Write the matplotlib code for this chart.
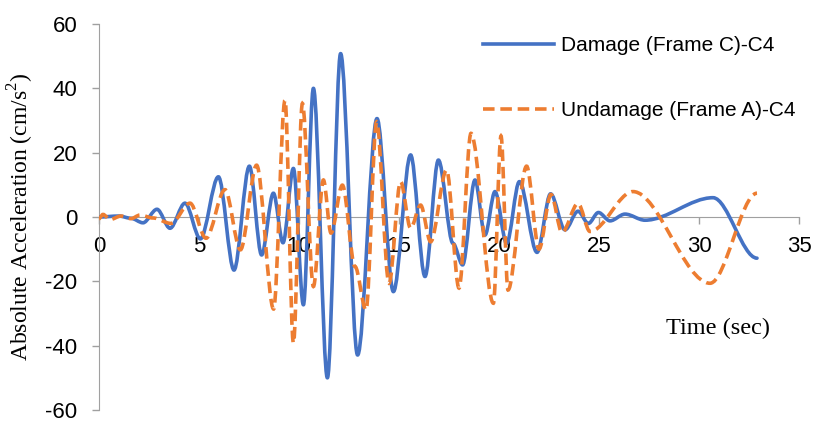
import matplotlib
matplotlib.use("Agg")
import matplotlib.pyplot as plt
from matplotlib.path import Path
from matplotlib.patches import PathPatch
from matplotlib.lines import Line2D

# extrema (time in sec, acceleration in cm/s2)
damage_t = [0.0, 1.0, 1.6, 2.2, 2.9, 3.55, 4.3, 5.07, 5.97, 6.75, 7.52, 8.13, 8.72, 9.2,
            9.72, 10.22, 10.72, 11.42, 12.08, 12.93, 13.9, 14.72, 15.58, 16.3, 16.97,
            17.7, 18.18, 18.8, 19.3, 19.8, 20.38, 21.02, 21.9, 22.58, 23.3, 23.95,
            24.47, 24.97, 25.55, 26.3, 27.3, 30.7, 32.9]
damage_v = [0.0, 0.3, -0.4, -1.8, 2.4, -3.5, 4.3, -6.8, 12.5, -16.5, 15.8, -11.8, 7.4, -8.0,
            15.1, -27.3, 40.0, -50.0, 50.8, -42.9, 30.6, -23.2, 19.3, -18.5, 17.7,
            -8.2, -14.9, 11.5, -5.6, 7.9, -8.2, 11.0, -11.0, 7.2, -4.0, 1.8,
            -2.0, 1.4, -1.2, 0.9, -1.0, 6.0, -12.8]

undamage_t = [0.0, 0.2, 0.55, 1.1, 1.6, 2.05, 2.7, 3.6, 4.55, 5.35, 6.3, 7.07, 7.88, 8.73,
              9.3, 9.72, 10.17, 10.72, 11.22, 11.6, 12.17, 12.8, 13.35, 13.88, 14.5,
              15.08, 15.58, 16.08, 16.58, 17.38, 18.0, 18.6, 19.72, 20.1, 20.45, 21.38,
              22.0, 22.6, 23.15, 23.95, 24.55, 26.7, 30.55, 32.9]
undamage_v = [-0.5, 0.8, -0.8, 0.3, -0.5, 0.6, -0.3, -2.0, 4.3, -6.6, 8.5, -10.2, 16.1, -28.6,
              36.3, -39.2, 35.3, -21.6, 11.5, -5.0, 9.9, -15.4, -28.9, 29.6, -20.6,
              11.0, -3.5, 3.7, -7.7, 14.6, -22.1, 26.0, -26.8, 25.2, -22.7, 15.8,
              -10.0, 7.0, -4.8, 4.2, -4.5, 7.9, -20.6, 7.4]

x_ticks = [0, 5, 10, 15, 20, 25, 30, 35]
y_ticks = [-60, -40, -20, 0, 20, 40, 60]


def smooth_path(ts, vs):
    # cubic Bezier between knots, flat tangent at each knot (peaks/valleys)
    verts = [(ts[0], vs[0])]
    codes = [Path.MOVETO]
    for i in range(len(ts) - 1):
        dt = ts[i + 1] - ts[i]
        verts += [(ts[i] + dt / 3, vs[i]), (ts[i + 1] - dt / 3, vs[i + 1]), (ts[i + 1], vs[i + 1])]
        codes += [Path.CURVE4] * 3
    return Path(verts, codes)


plt.rcParams['font.family'] = ['Liberation Sans', 'DejaVu Sans']
plt.rcParams['mathtext.fontset'] = 'custom'
plt.rcParams['mathtext.rm'] = 'Liberation Serif'
plt.rcParams['axes.unicode_minus'] = False

blue = '#4472c4'
orange = '#ed7d31'
grey = '#a0a0a0'

fig = plt.figure(figsize=(8.15, 4.24), dpi=100)
ax = fig.add_axes([99 / 815, 1 - 410 / 424, 700 / 815, 386 / 424])

ax.add_patch(PathPatch(smooth_path(damage_t, damage_v), fill=False, edgecolor=blue,
                       linewidth=2.6, capstyle='round', joinstyle='round', zorder=3))
ax.add_patch(PathPatch(smooth_path(undamage_t, undamage_v), fill=False, edgecolor=orange,
                       linewidth=2.6, linestyle=(0, (3.2, 1.6)), zorder=4))

ax.set_xlim(0, 35)
ax.set_ylim(-60, 60)
ax.set_xticks(x_ticks)
ax.set_yticks(y_ticks)

for s in ['top', 'right']:
    ax.spines[s].set_visible(False)
ax.spines['bottom'].set_position(('data', 0))
ax.spines['bottom'].set_color(grey)
ax.spines['left'].set_color(grey)
ax.tick_params(axis='both', colors=grey, labelcolor='black', labelsize=16, length=5, width=1)
ax.tick_params(axis='y', pad=10.5)
ax.tick_params(axis='x', pad=8.5)

ax.set_ylabel('Absolute Acceleration (cm/s$^{\\mathrm{2}}$)', family='Liberation Serif',
              fontsize=17, labelpad=7)
ax.text(30.95, -34.5, 'Time (sec)', family='Liberation Serif', fontsize=17.5,
        ha='center', va='center')

handles = [Line2D([], [], color=blue, linewidth=2.6),
           Line2D([], [], color=orange, linewidth=2.6, linestyle=(0, (3.2, 1.6)))]
ax.legend(handles, ['Damage (Frame C)-C4', 'Undamage (Frame A)-C4'], loc='upper left',
          bbox_to_anchor=(0.549, 0.969), frameon=False, fontsize=15, handlelength=3.4,
          handletextpad=0.35, labelspacing=2.2, borderpad=0, borderaxespad=0)

fig.savefig('out.png', dpi=100)
